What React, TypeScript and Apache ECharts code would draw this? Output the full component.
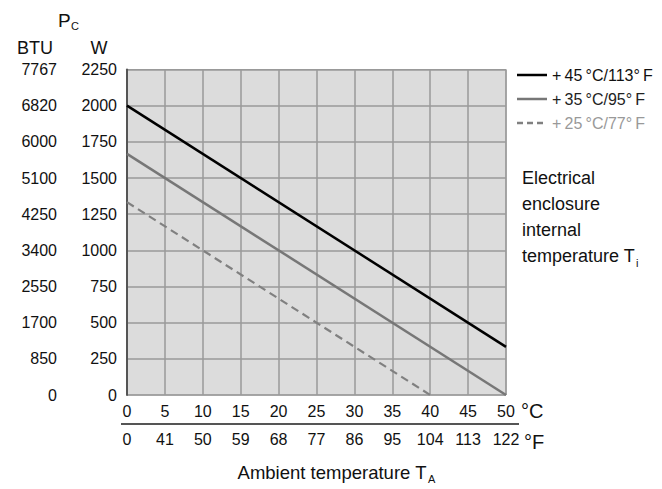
import React, { useEffect, useRef } from "react";
import * as echarts from "echarts";

const celsiusTicks = [0, 5, 10, 15, 20, 25, 30, 35, 40, 45, 50];
const fahrenheitLabels = ["0", "41", "50", "59", "68", "77", "86", "95", "104", "113", "122"];
const wattTicks = [0, 250, 500, 750, 1000, 1250, 1500, 1750, 2000, 2250];
const btuLabels = ["0", "850", "1700", "2550", "3400", "4250", "5100", "6000", "6820", "7767"];

const seriesNames = ["+\u200945\u2009°C/113°\u2009F", "+\u200935\u2009°C/95°\u2009F", "+\u200925\u2009°C/77°\u2009F"];
const line45 = [[0, 2000], [50, 333]];
const line35 = [[0, 1667], [50, 0]];
const line25 = [[0, 1333], [40, 0]];

const FONT = "Liberation Sans, Arial, sans-serif";

export default function App() {
  const ref = useRef<HTMLDivElement>(null);
  useEffect(() => {
    if (!ref.current) return;
    const chart = echarts.init(ref.current, null, { renderer: "svg" });
    const labelStyle = { fontSize: 16, color: "#111", fontFamily: FONT };
    const legendColors = ["#000", "#777", "#808080"];
    const legendTextColors = ["#111", "#222", "#999"];
    const legendY = [75, 99, 123];
    const legendGraphics: any[] = [];
    seriesNames.forEach((n, i) => {
      legendGraphics.push({
        type: "line",
        shape: { x1: 517, y1: legendY[i], x2: 547, y2: legendY[i] },
        style: { stroke: legendColors[i], lineWidth: 2.5, lineDash: i === 2 ? [6, 4] : null },
      });
      legendGraphics.push({
        type: "text",
        x: 552,
        y: legendY[i],
        style: { text: n, fontSize: 16, fill: legendTextColors[i], fontFamily: FONT, verticalAlign: "middle" },
      });
    });
    const enclosureLines = ["Electrical", "enclosure", "internal", "temperature T"];
    enclosureLines.forEach((t, i) => {
      legendGraphics.push({
        type: "text",
        x: 522,
        y: 178 + i * 26,
        style: { text: t, fontSize: 18, fill: "#111", fontFamily: FONT, verticalAlign: "middle" },
      });
    });
    chart.setOption({
      animation: false,
      grid: {
        left: 127,
        top: 69.5,
        width: 379,
        height: 325.5,
        show: true,
        backgroundColor: "#dcdcdc",
        borderColor: "#999",
        borderWidth: 1,
      },
      xAxis: [
        {
          type: "value",
          min: 0,
          max: 50,
          interval: 5,
          position: "bottom",
          axisLine: { show: false },
          axisTick: { show: false },
          splitLine: { show: true, lineStyle: { color: "#9a9a9a", width: 1.5 } },
          axisLabel: { ...labelStyle, margin: 8, formatter: (v: number) => String(celsiusTicks[Math.round(v / 5)] ?? v) },
        },
        {
          type: "value",
          min: 0,
          max: 50,
          interval: 5,
          position: "bottom",
          offset: 29,
          axisLine: { show: false },
          axisTick: { show: false },
          splitLine: { show: false },
          axisLabel: { ...labelStyle, margin: 7, formatter: (v: number) => fahrenheitLabels[Math.round(v / 5)] ?? "" },
        },
      ],
      yAxis: [
        {
          type: "value",
          min: 0,
          max: 2250,
          interval: 250,
          position: "left",
          axisLine: { show: false },
          axisTick: { show: false },
          splitLine: { show: true, lineStyle: { color: "#9a9a9a", width: 1.5 } },
          axisLabel: { ...labelStyle, margin: 10, formatter: (v: number) => String(wattTicks[Math.round(v / 250)] ?? v) },
        },
        {
          type: "value",
          min: 0,
          max: 2250,
          interval: 250,
          position: "left",
          offset: 59,
          axisLine: { show: true, lineStyle: { color: "#555", width: 2 } },
          axisTick: { show: false },
          splitLine: { show: false },
          axisLabel: { ...labelStyle, margin: 11, formatter: (v: number) => btuLabels[Math.round(v / 250)] ?? "" },
        },
      ],
      series: [
        {
          name: seriesNames[0],
          type: "line",
          data: line45,
          symbol: "none",
          lineStyle: { color: "#000", width: 2.5 },
        },
        {
          name: seriesNames[1],
          type: "line",
          data: line35,
          symbol: "none",
          lineStyle: { color: "#777", width: 2.5 },
        },
        {
          name: seriesNames[2],
          type: "line",
          data: line25,
          symbol: "none",
          lineStyle: { color: "#808080", width: 2.2, type: [8, 5] },
        },
      ],
      graphic: [
        { type: "text", x: 58, y: 20, style: { text: "P", fontSize: 19, fill: "#111", fontFamily: FONT, verticalAlign: "middle" } },
        { type: "text", x: 71, y: 26, style: { text: "C", fontSize: 11, fill: "#111", fontFamily: FONT, verticalAlign: "middle" } },
        { type: "text", x: 35, y: 48, style: { text: "BTU", fontSize: 18, fill: "#111", fontFamily: FONT, align: "center", verticalAlign: "middle" } },
        { type: "text", x: 99, y: 48, style: { text: "W", fontSize: 18, fill: "#111", fontFamily: FONT, align: "center", verticalAlign: "middle" } },
        { type: "text", x: 521, y: 411, style: { text: "°C", fontSize: 20, fill: "#111", fontFamily: FONT, verticalAlign: "middle" } },
        { type: "text", x: 524, y: 442, style: { text: "°F", fontSize: 20, fill: "#111", fontFamily: FONT, verticalAlign: "middle" } },
        { type: "line", shape: { x1: 121, y1: 424, x2: 519, y2: 424 }, style: { stroke: "#555", lineWidth: 2 } },
        { type: "text", x: 332, y: 472, style: { text: "Ambient temperature T", fontSize: 18.5, fill: "#111", fontFamily: FONT, align: "center", verticalAlign: "middle" } },
        { type: "text", x: 428, y: 479, style: { text: "A", fontSize: 11, fill: "#111", fontFamily: FONT, verticalAlign: "middle" } },
        { type: "text", x: 636, y: 263, style: { text: "i", fontSize: 11, fill: "#111", fontFamily: FONT, verticalAlign: "middle" } },
        ...legendGraphics,
      ],
    });
    return () => chart.dispose();
  }, []);
  return <div ref={ref} style={{ position: "absolute", left: 0, top: 0, width: 662, height: 489 }} />;
}
